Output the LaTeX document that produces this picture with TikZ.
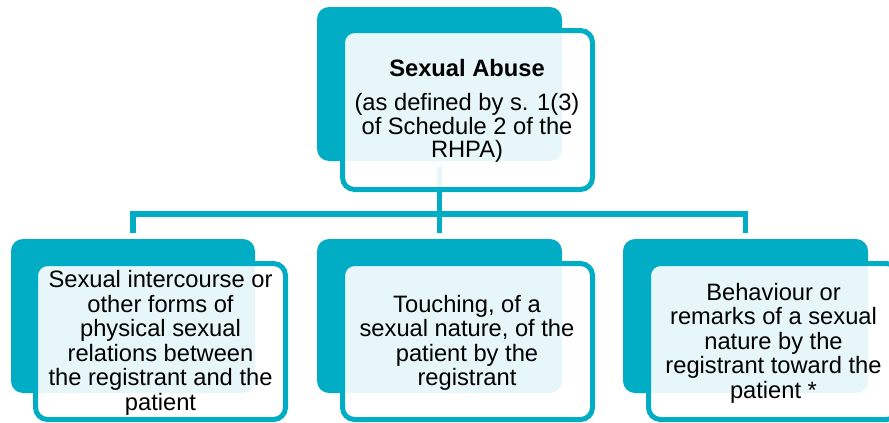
\documentclass[tikz,border=0pt]{standalone}
\usepackage{fontspec}
\setmainfont{Liberation Sans}
\definecolor{teal1}{RGB}{0,173,196}
\tikzset{
  backbox/.style={fill=teal1, draw=none, rounded corners=12pt},
  frontbox/.style={fill=white, fill opacity=0.9, draw=teal1, draw opacity=1, line width=5pt, rounded corners=12pt},
  conn/.style={draw=teal1, line width=5.5pt},
  txt/.style={align=center, text=black, inner sep=0pt, font=\fontsize{23.7}{24.5}\selectfont},
}
\begin{document}
\begin{tikzpicture}[x=1pt,y=-1pt]
\useasboundingbox (0,0) rectangle (889,423);
% back boxes
\path[backbox] (317,7) rectangle (562,161);
\path[backbox] (11,239) rectangle (255,393);
\path[backbox] (317,239) rectangle (562,393);
\path[backbox] (623,239) rectangle (868,393);
% connector coordinates
\coordinate (top) at (439.5,167);
\coordinate (hm) at (439.5,214);
\coordinate (hl) at (133,214);
\coordinate (hr) at (745.5,214);
\coordinate (bl) at (133,233);
\coordinate (bm) at (439.5,233);
\coordinate (br) at (745.5,233);
\draw[conn] (bl) -- (hl) -- (hr) -- (br);
\draw[conn] (top) -- (bm);
% front boxes
\path[frontbox] (342.5,30.5) rectangle (592.5,189.5);
\path[frontbox] (35.5,263.5) rectangle (285.5,419.5);
\path[frontbox] (342.5,263.5) rectangle (592.5,419.5);
\path[frontbox] (648.5,263.5) rectangle (898.5,419.5);
% texts
\node[txt, font=\fontsize{23.7}{23.3}\selectfont] (t0) at (467,111)
  {\textbf{Sexual Abuse}\\[11pt](as defined by s. 1(3)\\of Schedule 2 of the\\RHPA)};
\node[txt] (t1) at (160.5,343)
  {Sexual intercourse or\\other forms of\\physical sexual\\relations between\\the registrant and the\\patient};
\node[txt] (t2) at (467,343)
  {Touching, of a\\sexual nature, of the\\patient by the\\registrant};
\node[txt] (t3) at (773.5,343)
  {Behaviour or\\remarks of a sexual\\nature by the\\registrant toward the\\patient *};
\end{tikzpicture}
\end{document}
